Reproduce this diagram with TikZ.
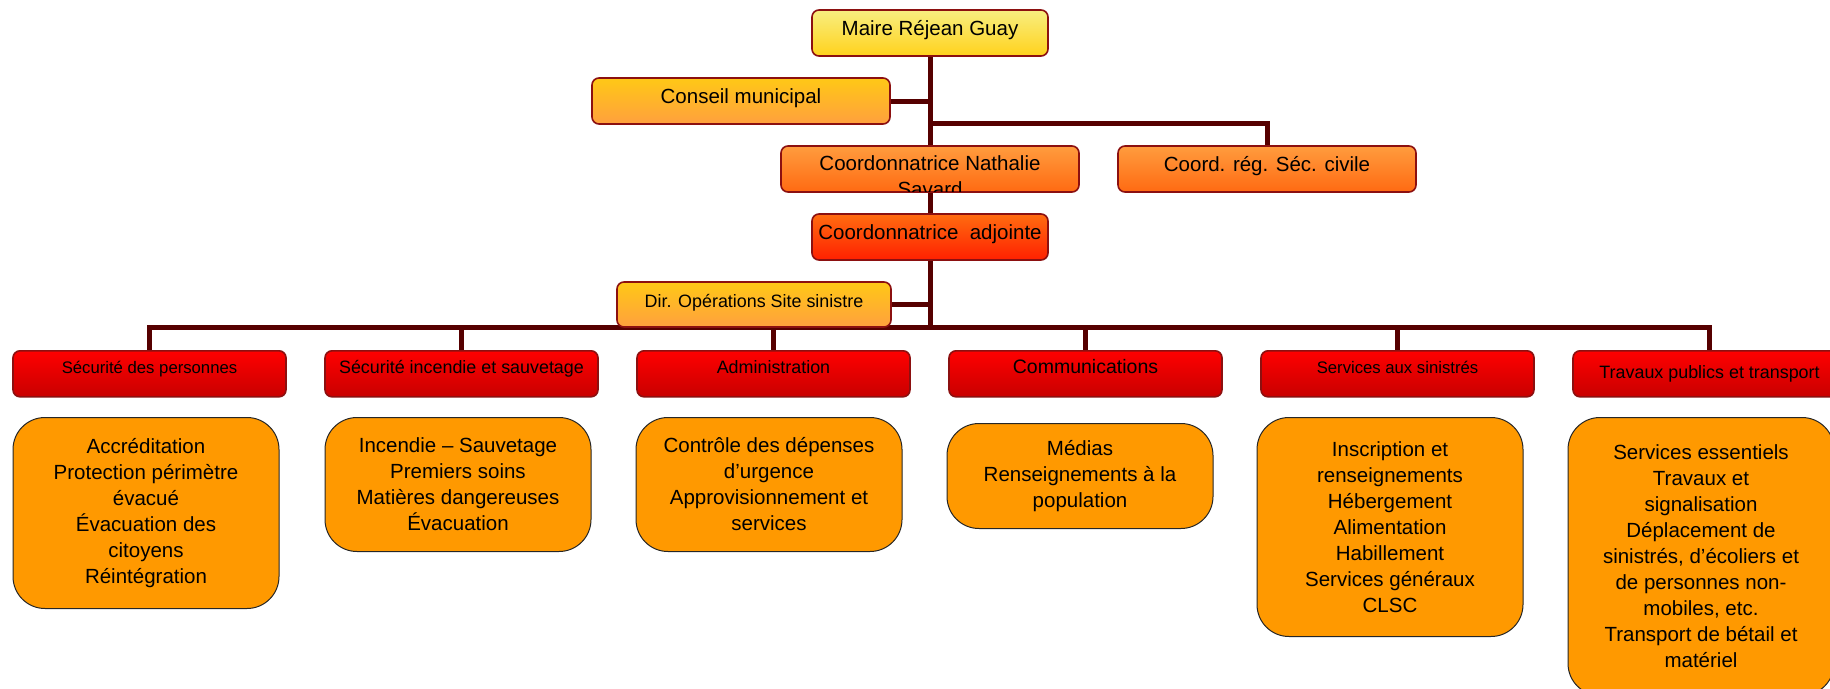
\documentclass[tikz,border=0pt]{standalone}
\usepackage{fontspec}
\setmainfont{Liberation Sans}
\usetikzlibrary{backgrounds}
\definecolor{lien}{HTML}{560000}
\definecolor{bord}{HTML}{8C1010}
\definecolor{jauneA}{HTML}{F8EE80}
\definecolor{jauneB}{HTML}{FFD21C}
\definecolor{ambreA}{HTML}{FFC816}
\definecolor{ambreB}{HTML}{FFA03E}
\definecolor{orangeA}{HTML}{FF9C3E}
\definecolor{orangeB}{HTML}{FF6A12}
\definecolor{vifA}{HTML}{FF6C10}
\definecolor{vifB}{HTML}{FF2000}
\definecolor{rougeA}{HTML}{FF0000}
\definecolor{rougeB}{HTML}{C80000}
\definecolor{fond}{HTML}{FF9900}
\tikzset{
  boite/.style={draw=bord, line width=1.6pt, rounded corners=7pt, inner sep=0pt,
    minimum height=46pt, text height=15pt, text depth=10pt,
    font=\fontsize{20.5}{26}\selectfont},
  jaune/.style={boite, top color=jauneA, bottom color=jauneB},
  ambre/.style={boite, top color=ambreA, bottom color=ambreB},
  orange/.style={boite, top color=orangeA, bottom color=orangeB},
  vif/.style={boite, top color=vifA, bottom color=vifB},
  secteur/.style={boite, top color=rougeA, bottom color=rougeB, minimum width=273pt, anchor=north},
  detail/.style={draw=black!85, line width=1pt, fill=fond, rounded corners=32pt, inner sep=0pt,
    minimum width=266pt, anchor=north, align=center, font=\fontsize{20.5}{26}\selectfont},
  lien/.style={draw=lien, line width=5pt}
}
\begin{document}
\begin{tikzpicture}[x=1pt,y=-1pt]
\useasboundingbox (0,0) rectangle (1830,688);
\node[jaune, minimum width=236pt] (maire) at (930,33) {Maire Réjean Guay};
\node[ambre, minimum width=298pt] (conseil) at (741,101) {Conseil municipal};
\node[orange, minimum width=298pt] (coord) at (930,169) {};
\begin{scope}
  \clip ([yshift=1pt]coord.south west) rectangle (coord.north east);
  \node[inner sep=0pt, align=center, font=\fontsize{20.5}{26}\selectfont, yshift=-7pt] (nomcoord) at (coord) {Coordonnatrice Nathalie\\Savard};
\end{scope}
\node[orange, minimum width=298pt] (coordreg) at (1267,169) {Coord. rég. Séc. civile};
\node[vif, minimum width=236pt] (adj) at (930,237) {Coordonnatrice\ \ adjointe};
\node[ambre, minimum width=274pt, minimum height=45pt, font=\fontsize{17.9}{22}\selectfont] (dirop) at (754,304.5) {Dir. Opérations Site sinistre};
\foreach \i/\x/\s/\d/\t in {1/149.5/16.7/13/{Sécurité des personnes},
                             2/461.5/17.9/13/{Sécurité incendie et sauvetage},
                             3/773.5/17.9/13/{Administration},
                             4/1085.5/19.5/13/{Communications},
                             5/1397.5/16.7/13/{Services aux sinistrés},
                             6/1709.5/17.9/3/{Travaux publics et transport}}
  \node[secteur, text height=13pt, text depth=\d pt, font=\fontsize{\s}{\s}\selectfont] (cat\i) at (\x,350) {\t};
\node[detail, minimum height=191pt] (det1) at (146,417) {Accréditation\\Protection périmètre\\évacué\\Évacuation des\\citoyens\\Réintégration};
\node[detail, minimum height=134pt] (det2) at (458,417) {Incendie – Sauvetage\\Premiers soins\\Matières dangereuses\\Évacuation};
\node[detail, minimum height=134pt] (det3) at (769,417) {Contrôle des dépenses\\d’urgence\\Approvisionnement et\\services};
\node[detail, minimum height=105pt] (det4) at (1080,423) {Médias\\Renseignements à la\\population};
\node[detail, minimum height=219pt] (det5) at (1390,417) {Inscription et\\renseignements\\Hébergement\\Alimentation\\Habillement\\Services généraux\\CLSC};
\node[detail, minimum height=278pt] (det6) at (1701,417) {Services essentiels\\Travaux et\\signalisation\\Déplacement de\\sinistrés, d’écoliers et\\de personnes non-\\mobiles, etc.\\Transport de bétail et\\matériel};
\coordinate (jct) at (930,123);
\coordinate (bus) at (930,327);
\begin{scope}[on background layer]
  \draw[lien] (maire.south) -- (adj.south) -- (bus);
  \draw[lien] (conseil.east) -- (conseil.east -| maire.south);
  \draw[lien] (jct) -| (coordreg.north);
  \draw[lien] (dirop.east) -- (dirop.east -| adj.south);
  \foreach \i in {1,...,6}
    \draw[lien] (cat\i.north) |- (bus);
\end{scope}
\end{tikzpicture}
\end{document}
